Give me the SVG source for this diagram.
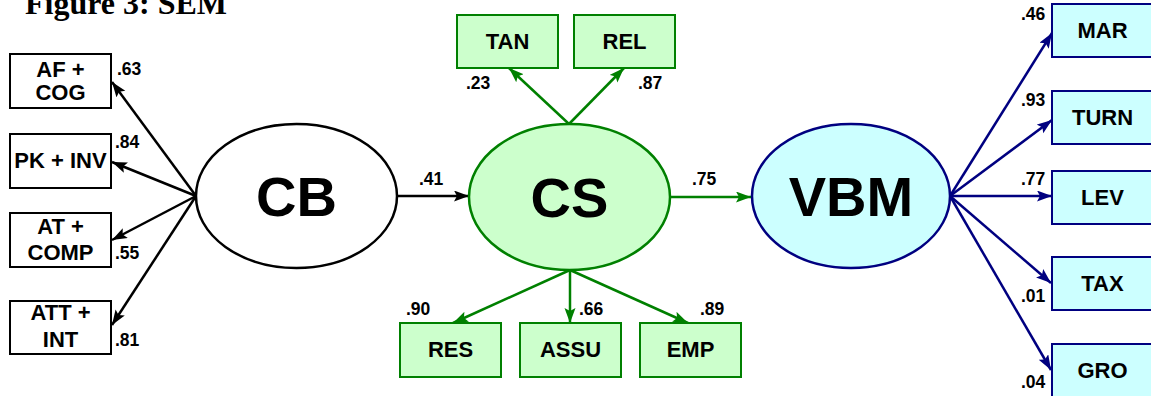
<svg xmlns="http://www.w3.org/2000/svg" width="1151" height="396" viewBox="0 0 1151 396">
<defs>
<style>
.t{font-family:"Liberation Sans",Arial,sans-serif;font-weight:bold;fill:#000}
.box{font-size:22px;text-anchor:middle}
.box2{font-size:22px;text-anchor:middle}
.big{font-size:56px;text-anchor:middle}
.coef{font-size:17.5px}
.bk{stroke:#000;stroke-width:2.5;fill:none}
.gr{stroke:#008000;stroke-width:2.5;fill:none}
.nv{stroke:#000080;stroke-width:2.5;fill:none}
.rb{fill:#fff;stroke:#000;stroke-width:2}
.rg{fill:#ccffcc;stroke:#008000;stroke-width:2}
.rn{fill:#ccffff;stroke:#000080;stroke-width:2}
</style>
<marker id="ab" markerUnits="userSpaceOnUse" markerWidth="16" markerHeight="12" refX="15" refY="5.5" orient="auto"><path d="M0,0 L15,5.5 L0,11 L3,5.5 z" fill="#000"/></marker>
<marker id="ag" markerUnits="userSpaceOnUse" markerWidth="16" markerHeight="12" refX="15" refY="5.5" orient="auto"><path d="M0,0 L15,5.5 L0,11 L3,5.5 z" fill="#008000"/></marker>
<marker id="an" markerUnits="userSpaceOnUse" markerWidth="16" markerHeight="12" refX="15" refY="5.5" orient="auto"><path d="M0,0 L15,5.5 L0,11 L3,5.5 z" fill="#000080"/></marker>
</defs>
<rect width="1151" height="396" fill="#fff"/>
<text x="25" y="14" style="font-family:'Liberation Serif','Times New Roman',serif;font-weight:bold;font-size:32px">Figure 3: SEM</text>

<g id="connectors">
<line class="bk" x1="196" y1="196" x2="112" y2="82" marker-end="url(#ab)"/>
<line class="bk" x1="196" y1="196" x2="112" y2="162" marker-end="url(#ab)"/>
<line class="bk" x1="196" y1="196" x2="112" y2="240" marker-end="url(#ab)"/>
<line class="bk" x1="196" y1="196" x2="112" y2="325" marker-end="url(#ab)"/>
<line class="bk" x1="397" y1="196" x2="469" y2="196" marker-end="url(#ab)"/>
<line class="gr" x1="569" y1="124" x2="509" y2="68" marker-end="url(#ag)"/>
<line class="gr" x1="569" y1="124" x2="624" y2="68" marker-end="url(#ag)"/>
<line class="gr" x1="570" y1="270" x2="453" y2="323" marker-end="url(#ag)"/>
<line class="gr" x1="570" y1="270" x2="570" y2="323" marker-end="url(#ag)"/>
<line class="gr" x1="570" y1="270" x2="688" y2="323" marker-end="url(#ag)"/>
<line class="gr" x1="670" y1="197" x2="751" y2="197" marker-end="url(#ag)"/>
<line class="nv" x1="950" y1="196" x2="1052" y2="33" marker-end="url(#an)"/>
<line class="nv" x1="950" y1="196" x2="1052" y2="120" marker-end="url(#an)"/>
<line class="nv" x1="950" y1="196" x2="1052" y2="196" marker-end="url(#an)"/>
<line class="nv" x1="950" y1="196" x2="1051" y2="283" marker-end="url(#an)"/>
<line class="nv" x1="950" y1="196" x2="1051" y2="370" marker-end="url(#an)"/>
</g>

<g id="coefs" class="t coef">
<text x="117" y="75">.63</text>
<text x="115" y="148">.84</text>
<text x="115" y="259">.55</text>
<text x="115" y="346">.81</text>
<text x="419" y="185">.41</text>
<text x="466" y="89">.23</text>
<text x="638" y="89">.87</text>
<text x="406" y="315">.90</text>
<text x="579" y="315">.66</text>
<text x="700" y="315">.89</text>
<text x="692" y="185">.75</text>
<text x="1021" y="20">.46</text>
<text x="1021" y="106">.93</text>
<text x="1021" y="185">.77</text>
<text x="1021" y="302">.01</text>
<text x="1021" y="388">.04</text>
</g>

<g id="AFCOG"><rect class="rb" x="10" y="54" width="101" height="54"/><text class="t box" x="60.5" y="77">AF +</text><text class="t box" x="60.5" y="100">COG</text></g>
<g id="PKINV"><rect class="rb" x="10" y="134" width="101" height="54"/><text class="t box" x="60.5" y="168">PK + INV</text></g>
<g id="ATCOMP"><rect class="rb" x="10" y="213" width="101" height="54"/><text class="t box" x="60.5" y="234">AT +</text><text class="t box" x="60.5" y="260">COMP</text></g>
<g id="ATTINT"><rect class="rb" x="10" y="301" width="101" height="53"/><text class="t box" x="60.5" y="320">ATT +</text><text class="t box" x="60.5" y="347">INT</text></g>

<g id="CB"><ellipse cx="296.5" cy="196" rx="100.5" ry="72" fill="#fff" stroke="#000" stroke-width="2.5"/><text class="t big" x="296.5" y="216">CB</text></g>
<g id="CS"><ellipse cx="569.5" cy="197" rx="100.5" ry="73" fill="#ccffcc" stroke="#008000" stroke-width="2.5"/><text class="t big" x="569.5" y="217">CS</text></g>
<g id="VBM"><ellipse cx="851" cy="196" rx="99" ry="72" fill="#ccffff" stroke="#000080" stroke-width="2.5"/><text class="t big" x="851" y="216">VBM</text></g>

<g id="TAN"><rect class="rg" x="457" y="15" width="101" height="53"/><text class="t box2" x="507.5" y="49">TAN</text></g>
<g id="REL"><rect class="rg" x="574" y="15" width="101" height="53"/><text class="t box2" x="624.5" y="49">REL</text></g>
<g id="RES"><rect class="rg" x="400" y="323" width="101" height="54"/><text class="t box2" x="450.5" y="357">RES</text></g>
<g id="ASSU"><rect class="rg" x="520" y="323" width="101" height="54"/><text class="t box2" x="570.5" y="357">ASSU</text></g>
<g id="EMP"><rect class="rg" x="640" y="323" width="101" height="54"/><text class="t box2" x="690.5" y="357">EMP</text></g>

<g id="MAR"><rect class="rn" x="1052" y="4" width="101" height="53"/><text class="t box2" x="1102.5" y="38">MAR</text></g>
<g id="TURN"><rect class="rn" x="1052" y="91" width="101" height="53"/><text class="t box2" x="1102.5" y="125">TURN</text></g>
<g id="LEV"><rect class="rn" x="1052" y="171" width="101" height="53"/><text class="t box2" x="1102.5" y="205">LEV</text></g>
<g id="TAX"><rect class="rn" x="1052" y="257" width="101" height="53"/><text class="t box2" x="1102.5" y="291">TAX</text></g>
<g id="GRO"><rect class="rn" x="1052" y="344" width="101" height="53"/><text class="t box2" x="1102.5" y="378">GRO</text></g>
</svg>
